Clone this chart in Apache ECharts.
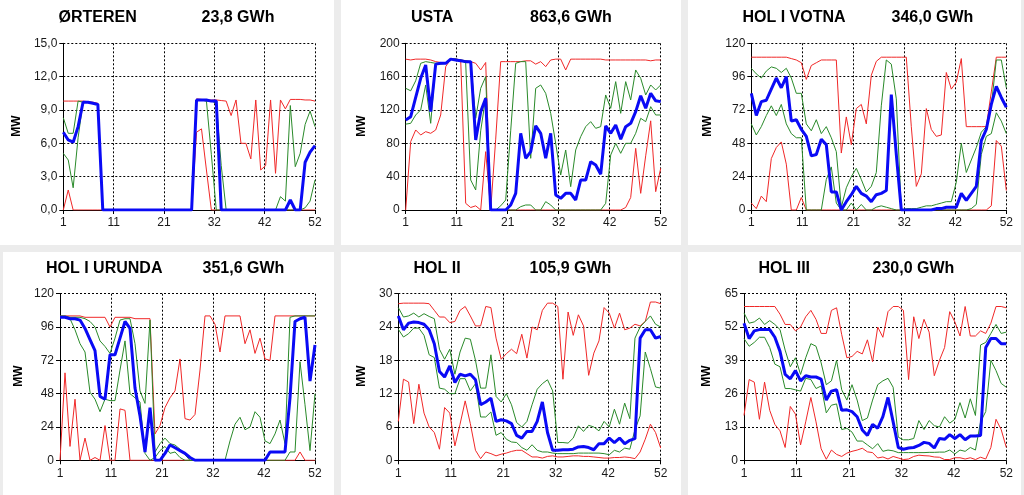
<!DOCTYPE html>
<html><head><meta charset="utf-8">
<script src="https://cdn.jsdelivr.net/npm/echarts@6/dist/echarts.min.js"></script>
<style>html,body{margin:0;padding:0;background:#ececec;}#c{width:1024px;height:495px;}</style>
</head><body><div id="c"></div>
<script>
// ---------- DATA ----------
const WEEKS = [1,2,3,4,5,6,7,8,9,10,11,12,13,14,15,16,17,18,19,20,21,22,23,24,25,26,27,28,29,30,31,32,33,34,35,36,37,38,39,40,41,42,43,44,45,46,47,48,49,50,51,52];
const NAMES = ['ØRTEREN','USTA','HOL I VOTNA','HOL I URUNDA','HOL II','HOL III'];
const ENERGY = ['23,8 GWh','863,6 GWh','346,0 GWh','351,6 GWh','105,9 GWh','230,0 GWh'];
const YMAX = [15, 200, 120, 120, 30, 65];
const YDEC = [1, 0, 0, 0, 0, 0];

// ØRTEREN
const ORT_MAX = [9.8,9.8,9.8,9.8,9.8,9.75,9.7,9.6,0,0,0,0,0,0,0,0,0,0,0,0,0,0,0,0,0,0,0,10.0,9.95,9.9,9.9,9.9,9.85,9.8,8.5,9.9,6.0,6.0,4.6,9.9,3.6,4.0,9.9,3.3,9.9,9.1,9.95,9.95,9.95,9.9,9.9,9.8];
const ORT_MIN = [0,1.8,0,0,0,0,0,0,0,0,0,0,0,0,0,0,0,0,0,0,0,0,0,0,0,0,0,7.0,7.3,3.6,0,0,0,0,0,0,0,0,0,0,0,0,0,0,0,0,0,0,0,0,0,0];
const ORT_P75 = [8.3,6.9,6.9,9.8,9.7,9.7,9.6,9.5,0,0,0,0,0,0,0,0,0,0,0,0,0,0,0,0,0,0,0,9.9,9.9,9.8,9.8,9.6,4.0,0,0,0,0,0,0,0,0,0,0,0,1.2,0.8,9.4,3.9,5.1,7.7,8.9,7.5];
const ORT_P25 = [5.1,4.5,2.0,6.5,9.7,9.7,9.6,9.5,0,0,0,0,0,0,0,0,0,0,0,0,0,0,0,0,0,0,0,9.9,9.9,9.8,5.0,0,0,0,0,0,0,0,0,0,0,0,0,0,0,0,0,0,0,0.2,0.8,2.7];
const ORT_CUR = [7.0,6.3,6.1,7.5,9.7,9.7,9.6,9.5,0,0,0,0,0,0,0,0,0,0,0,0,0,0,0,0,0,0,0,9.9,9.9,9.9,9.8,9.8,0,0,0,0,0,0,0,0,0,0,0,0,0,0,0.9,0,0,4.3,5.2,5.8];

// USTA
const USTA_MAX = [181,180,181,181,181,180,178,177,176,181,181,180,179,178,176,168,177,0,85,178,178,178,178,178,179,179,175,178,172,180,181,181,168,181,181,181,181,181,181,181,180,180,180,180,180,180,180,180,180,179,180,180];
const USTA_MIN = [0,82,96,90,94,92,96,114,172,181,181,180,8,3,5,0,70,0,0,0,0,0,0,0,0,0,0,0,0,0,0,0,0,0,0,0,0,0,0,0,0,0,0,0,3,15,74,20,65,107,22,50];
const USTA_P75 = [146,143,155,176,178,177,176,176,177,181,181,180,179,178,110,146,160,0,0,5,12,95,176,178,178,62,146,150,140,116,80,42,72,28,72,88,100,106,98,100,138,122,154,116,154,132,168,158,138,150,144,150];
const USTA_P25 = [103,104,114,120,150,104,175,175,176,181,181,180,176,36,24,95,135,0,0,0,0,0,0,4,6,6,0,0,10,6,0,0,0,0,0,0,0,0,0,0,8,66,80,68,80,80,92,110,106,124,114,114];
const USTA_CUR = [108,112,135,158,174,118,175,176,176,181,180,179,178,178,84,118,134,0,0,0,0,6,20,92,62,70,101,92,62,92,18,14,20,20,12,36,36,58,54,43,101,92,102,85,100,104,118,137,122,140,131,130];

// HOL I VOTNA
const VOT_MAX = [110,110,110,110,110,110,110,110,109,108,106,94,104,106,108,108,108,108,41,67,47,73,76,62,97,107,110,110,110,110,110,110,60,17,26,73,58,53,54,99,87,92,109,60,60,60,60,60,85,110,110,110];
const VOT_MIN = [5,1,10,6,37,45,49,33,0,0,9,0,0,0,0,0,0,0,0,0,0,0,0,0,0,0,0,0,0,0,0,0,0,0,0,0,0,0,0,0,0,0,0,0,0,0,0,0,3,50,46,14];
const VOT_P75 = [102,98,95,100,103,102,99,102,95,84,84,62,57,65,55,60,52,42,2,16,24,30,22,13,17,27,75,108,105,80,0,1,1,1,2,3,3,4,5,6,6,20,48,27,36,45,56,60,75,108,108,88];
const VOT_P25 = [62,54,60,68,75,68,76,62,55,52,52,0,0,0,0,22,31,5,0,0,5,0,4,0,0,2,3,2,1,0,0,0,0,0,0,0,0,0,0,0,0,0,0,0,1,4,40,53,55,70,64,55];
const VOT_CUR = [84,68,78,79,87,95,88,96,64,65,58,53,39,40,51,47,13,13,0,6,11,17,12,10,6,11,12,14,83,40,0,0,0,0,0,0,0,1,1,2,2,2,12,7,12,17,50,58,76,89,81,74];

// HOL I URUNDA
const URU_MAX = [104,104,104,104,104,103,103,103,103,103,96,103,103,103,103,102,102,102,102,19,25,38,45,50,73,30,29,33,65,104,104,98,78,104,104,104,104,84,94,77,88,73,72,104,104,104,104,104,104,104,104,104];
const URU_MIN = [0,63,10,44,0,16,0,2,0,25,0,0,37,36,0,0,0,0,0,0,0,0,0,0,0,0,0,0,0,0,0,0,0,0,0,0,0,0,0,0,0,0,0,0,0,0,0,0,6,0,0,0];
const URU_P75 = [104,104,103,103,103,102,100,96,86,82,77,88,101,102,102,84,50,41,101,6,12,16,12,11,8,4,0,0,0,0,0,0,0,0,14,26,31,22,24,35,31,14,12,19,29,12,103,104,104,104,104,104];
const URU_P25 = [103,103,102,94,84,78,49,44,35,44,43,43,65,86,48,45,42,5,0,2,7,10,5,6,2,0,0,0,0,0,0,0,0,0,0,0,0,0,0,0,0,0,0,0,0,0,6,6,71,40,7,48];
const URU_CUR = [103,103,102,102,101,95,87,79,46,44,76,76,88,100,95,52,32,6,38,0,0,5,11,9,7,5,2,0,0,0,0,0,0,0,0,0,0,0,0,0,0,0,6,6,6,6,45,100,102,103,57,83];

// HOL II
const H2_MAX = [28.2,28.3,28.3,28.3,28.3,28.3,28.2,27,25.8,25.8,24.8,25,27,27.7,26,24.2,24.2,27.7,27.5,22,18.2,19.2,20,19.2,22.7,18.4,24,23.5,27,28.3,28.3,27.7,14.6,26.7,22.5,26.2,24.2,15.3,19.3,21.5,27.5,26.5,23.8,26.5,23.5,23.8,24.5,24.2,25,28.5,28.5,28.2];
const H2_MIN = [7,14.6,14.1,6.6,13.7,8.5,6,5,2,9.5,8.5,2.6,6.5,10.7,6.6,1.8,0.3,1.5,1.2,0.8,1.1,1.3,1.6,1.8,1.8,1.2,0.6,0.6,0.4,0.7,0.8,0.6,0.6,0.7,0.8,0.8,0.7,0.7,0.6,0.5,0.4,0.4,0.5,0.5,0.6,0.5,0.3,1.5,3.8,6.5,5,2.2];
const H2_P75 = [27.5,25.8,26,26.5,25.8,26.4,25.9,25.5,20,18.2,20,15.5,19.5,22,21.8,18,13,13,19,11.5,10.5,12,10,6.8,6,7,10,12.8,13.8,14.5,12.5,3.2,3.2,3.1,4,6.2,5.2,6.3,6,5.3,7,6,9.2,6.5,10.3,7.5,22,24,25,26,24.5,24];
const H2_P25 = [23.6,22.2,22.8,23.8,23.8,22.5,19,18.5,13,12.8,12,12,14.7,14.7,12.5,13.8,7.8,7.8,8.7,4.5,5,3.8,3.3,3.2,2.3,1.8,2.8,1.8,1.5,1.5,1.3,1.2,1.2,1.2,1.2,1.3,1.3,1.3,1.3,1.3,1.2,1,1.8,1.5,2.2,2,5.5,8,19.5,16.5,13.2,13];
const H2_CUR = [26,23.5,24.7,24.9,24.8,24.5,23.5,21,16,15,17,14,15.5,15.2,15.5,14.5,10,10.5,11.2,7,7.3,7.1,6.6,4.5,4,5.2,5.2,7,10.5,5,1.8,1.8,1.9,1.9,2.0,2.4,2.5,2.3,1.9,3.0,3.0,4.0,3.2,4.0,3.0,3.6,3.9,22,23.5,23.5,22,22.3];

// HOL III
const H3_MAX = [60,60,60,60,60,60,60,57,53,53,50.5,52,56,58.5,55,49.5,49.5,58.5,59.5,49,40,40.5,42.5,41.5,47,38.5,52,48,58,60,60,58.5,31.5,56,47.5,55,50,33,39,44,58,54,48.5,60,48.5,48.5,50.5,49.5,53.5,60,60,59.5];
const H3_MIN = [17.5,31.5,30.5,16,30.5,19.5,14,11.5,5,21,18,6,15,24.5,15,4.5,0.4,4,2.3,1.5,2.8,3.5,4,4.7,3.3,3,0.9,1.3,0.5,1.5,0.9,0.3,0.5,1.5,2,1.8,1.7,1.3,1.2,0.3,0.3,1,1,0.5,1,0.3,1.2,0.5,5,16,12,5];
const H3_P75 = [57.5,53.5,54,55.5,53,54.5,53,51,43,36.5,40,33.5,40,45.5,44.5,38,29.5,31,39,27.5,23.5,29.5,23.5,15.5,16.5,23.5,29.5,31,32,28.5,9,8,8,8.5,15.5,12,15.5,13.5,13,17,14.5,16,22.5,16.5,24,17.5,45,46,49.5,53,49.5,50];
const H3_P25 = [47.5,44.5,46,48,48,44,37.5,36.5,28,28,27.5,27,32,31.5,28,29,18.5,21.5,22,12,12.5,11,7.5,7.5,6,4.5,6.5,3.5,4,3.7,3,3,3,3,3,3,3.1,3.1,3.2,3.2,4,2.5,4,3.5,5,4,15,19,39,35,30,28.5];
const H3_CUR = [53.5,47.5,50.5,51,51,51,48,42.5,33.5,31.8,35,31,33,32.5,32.5,31.7,23.5,27,27.5,19.5,19.7,19,17,11.8,9.7,14,12.5,17,24.5,15,5,4.3,4.8,5,5.8,7,6.6,4.8,8.5,8.2,10,8.5,10,8,9.5,9.5,9.7,44,47.5,47.5,45.5,45.5];

const SERIES_SETS = [
  [ORT_MAX, ORT_MIN, ORT_P75, ORT_P25, ORT_CUR],
  [USTA_MAX, USTA_MIN, USTA_P75, USTA_P25, USTA_CUR],
  [VOT_MAX, VOT_MIN, VOT_P75, VOT_P25, VOT_CUR],
  [URU_MAX, URU_MIN, URU_P75, URU_P25, URU_CUR],
  [H2_MAX, H2_MIN, H2_P75, H2_P25, H2_CUR],
  [H3_MAX, H3_MIN, H3_P75, H3_P25, H3_CUR]
];

// ---------- LAYOUT / STYLE ----------
const FONT = '"Liberation Sans", Arial, sans-serif';
const GEOM = [
  {l:63.3, t:43.3, w:251.7, h:166.7, tx:58.5, vx:201.5, ty:17.2, mx:16.3, my:126},
  {l:405.7, t:43.3, w:255, h:166.7, tx:411, vx:530, ty:17.2, mx:361.2, my:126},
  {l:751.3, t:43.3, w:255, h:166.7, tx:742.5, vx:891.5, ty:17.2, mx:707.7, my:126},
  {l:60, t:293.7, w:255, h:166.6, tx:46, vx:202.5, ty:268.3, mx:18.8, my:376},
  {l:398.3, t:293.7, w:262.4, h:166.6, tx:413.5, vx:529.5, ty:268.3, mx:361.5, my:376},
  {l:744, t:293.7, w:262.3, h:166.6, tx:758.5, vx:872.5, ty:268.3, mx:706.5, my:376}
];
const PANELS = [
  [0,0,334,245],[341,0,340,245],[688,0,333,245],
  [3,252,331,243],[341,252,340,243],[688,252,333,243]
];
const LINE_STYLES = [
  {color:'#f02828', width:1},
  {color:'#f02828', width:1},
  {color:'#2a8a2a', width:1},
  {color:'#2a8a2a', width:1},
  {color:'#0a0af5', width:3}
];

const grids=[], xAxes=[], yAxes=[], series=[], graphics=[];
PANELS.forEach(p => graphics.push({type:'rect', z:-10, shape:{x:p[0], y:p[1], width:p[2], height:p[3]}, style:{fill:'#ffffff'}}));

GEOM.forEach((g,i) => {
  grids.push({left:g.l, top:g.t, width:g.w, height:g.h});
  const dash = {show:true, lineStyle:{color:'#000', width:1, type:[2,2]}};
  xAxes.push({
    gridIndex:i, type:'value', min:0, max:51, interval:10.2,
    axisLine:{show:true, onZero:false, lineStyle:{color:'#000', width:1}},
    axisTick:{show:true, length:4, lineStyle:{color:'#000'}},
    axisLabel:{show:true, showMinLabel:true, showMaxLabel:true, margin:7, fontSize:12, color:'#1a1a1a', fontFamily:FONT,
      formatter: v => String(WEEKS[Math.round(v)])},
    splitLine:dash
  });
  const dec = YDEC[i];
  yAxes.push({
    gridIndex:i, type:'value', min:0, max:YMAX[i], interval:YMAX[i]/5,
    axisLine:{show:true, onZero:false, lineStyle:{color:'#000', width:1}},
    axisTick:{show:true, length:4, lineStyle:{color:'#000'}},
    axisLabel:{show:true, showMinLabel:true, showMaxLabel:true, margin:6, fontSize:12, color:'#1a1a1a', fontFamily:FONT,
      formatter: v => dec ? v.toFixed(dec).replace('.', ',') : String(v)},
    splitLine:dash
  });
  SERIES_SETS[i].forEach((arr, k) => {
    series.push({
      type:'line', xAxisIndex:i, yAxisIndex:i, symbol:'none', silent:true,
      lineStyle:LINE_STYLES[k], z: 2 + k,
      data: arr.map((v, j) => [WEEKS[j] - 1, v])
    });
  });
  graphics.push({type:'text', x:g.tx, y:g.ty, z:10, style:{text:NAMES[i], font:'bold 16px ' + FONT, fill:'#000', verticalAlign:'middle', align:'left'}});
  graphics.push({type:'text', x:g.vx, y:g.ty, z:10, style:{text:ENERGY[i], font:'bold 16px ' + FONT, fill:'#000', verticalAlign:'middle', align:'left'}});
  graphics.push({type:'text', x:g.mx, y:g.my, z:10, rotation:Math.PI/2, style:{text:'MW', font:'bold 12px ' + FONT, fill:'#000', verticalAlign:'middle', align:'center'}});
});

const chart = echarts.init(document.getElementById('c'), null, {renderer:'canvas'});
chart.setOption({
  animation:false,
  backgroundColor:'#ececec',
  grid:grids, xAxis:xAxes, yAxis:yAxes, series:series,
  graphic:{elements:graphics}
});
</script></body></html>
